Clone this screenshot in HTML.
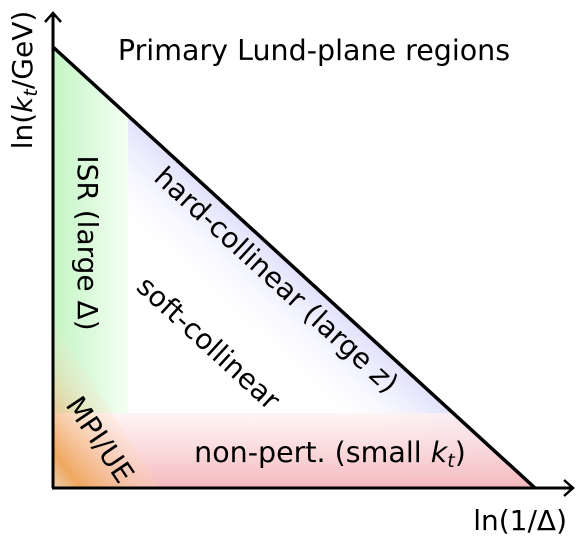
<!DOCTYPE html>
<html><head><meta charset="utf-8"><style>
html,body{margin:0;padding:0;background:#fff;}
svg{display:block;font-family:"DejaVu Sans","Liberation Sans",sans-serif;}
</style></head><body>
<svg width="582" height="545" viewBox="0 0 582 545">
<defs>
<linearGradient id="gG" x1="53" y1="0" x2="128" y2="0" gradientUnits="userSpaceOnUse">
<stop offset="0" stop-color="#c4f5c4"/><stop offset="1" stop-color="#f4fff4"/></linearGradient>
<linearGradient id="gB" x1="332" y1="302" x2="278" y2="361" gradientUnits="userSpaceOnUse">
<stop offset="0" stop-color="#e0e0fc"/><stop offset="1" stop-color="#ffffff" stop-opacity="0.2"/></linearGradient>
<linearGradient id="gR" x1="0" y1="413" x2="0" y2="488" gradientUnits="userSpaceOnUse">
<stop offset="0" stop-color="#fff2f2" stop-opacity="0.8"/><stop offset="1" stop-color="#f4b9bd"/></linearGradient>
<linearGradient id="gO" x1="53" y1="488" x2="140" y2="420" gradientUnits="userSpaceOnUse">
<stop offset="0" stop-color="#e8cfb0"/><stop offset="0.2" stop-color="#f0a860"/><stop offset="1" stop-color="#ffe8d8" stop-opacity="0"/></linearGradient>
<clipPath id="tri"><polygon points="53,47 535,488 53,488"/></clipPath>
</defs>
<g clip-path="url(#tri)">
<rect x="53" y="40" width="75" height="373" fill="url(#gG)"/>
<polygon points="128,116 535,488 420,488 128,222" fill="url(#gB)"/>
<rect x="53" y="413" width="490" height="75" fill="url(#gR)"/>
<polygon points="53,320 53,488 160,488" fill="url(#gO)"/>
</g>
<polyline points="53,47 535,488" stroke="#000" stroke-width="3.5" fill="none"/>
<line x1="53" y1="488" x2="53" y2="13" stroke="#000" stroke-width="3"/>
<polyline points="45,22 53,13 61,22" stroke="#000" stroke-width="2.5" fill="none"/>
<line x1="52" y1="488" x2="572" y2="488" stroke="#000" stroke-width="3"/>
<polyline points="564,480 573,488 564,496" stroke="#000" stroke-width="2.5" fill="none"/>
<text x="314" y="60" font-size="28.5" text-anchor="middle">Primary Lund-plane regions</text>
<text transform="translate(32,80) rotate(-90)" font-size="28" text-anchor="middle">ln(<tspan font-style="italic">k</tspan><tspan font-style="italic" font-size="19" dy="5">t</tspan><tspan dy="-5">/GeV)</tspan></text>
<text x="567" y="530" font-size="28" text-anchor="end">ln(1/Δ)</text>
<text transform="translate(78,243) rotate(90)" font-size="28" text-anchor="middle">ISR (large Δ)</text>
<text transform="translate(270,287) rotate(42.5)" font-size="28" text-anchor="middle">hard-collinear (large <tspan font-style="italic">z</tspan>)</text>
<text transform="translate(202,350) rotate(42.5)" font-size="28" text-anchor="middle">soft-collinear</text>
<text transform="translate(92,445) rotate(56)" font-size="28" text-anchor="middle">MPI/UE</text>
<text x="330" y="462" font-size="28.5" text-anchor="middle">non-pert. (small <tspan font-style="italic">k</tspan><tspan font-style="italic" font-size="19" dy="5">t</tspan><tspan dy="-5">)</tspan></text>
</svg>
</body></html>
